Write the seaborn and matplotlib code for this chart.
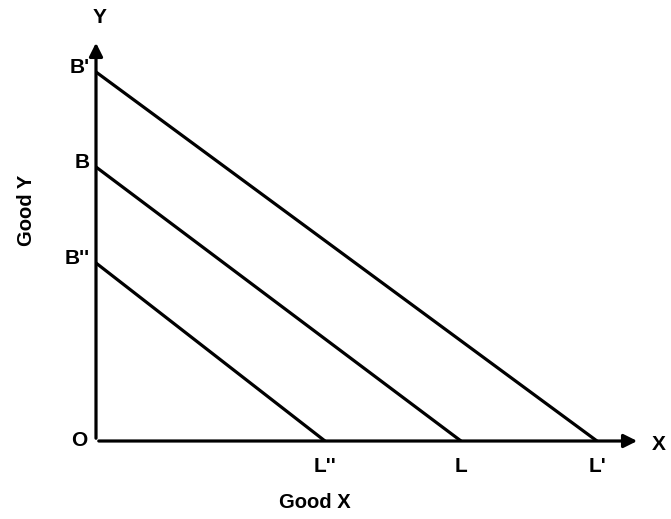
import matplotlib.pyplot as plt
import seaborn as sns
import pandas as pd

# budget lines: y-intercept (B) and x-intercept (L), in picture units
line_names = ["B'L'", "BL", "B''L''"]
y_intercepts = [369, 274, 178]
x_intercepts = [501, 365, 229]
y_labels = ["B'", "B", "B''"]
x_labels = ["L'", "L", "L''"]

sns.set_style("white")
plt.rcParams['font.family'] = ['Liberation Sans', 'DejaVu Sans']
plt.rcParams['text.color'] = 'black'

rows = []
for name, b, l in zip(line_names, y_intercepts, x_intercepts):
    rows.append({"line": name, "x": 0, "y": b})
    rows.append({"line": name, "x": l, "y": 0})
df = pd.DataFrame(rows)

fig = plt.figure(figsize=(6.71, 5.19), dpi=100)
ax = fig.add_axes([96 / 671, 78 / 519, 544 / 671, 401 / 519])
sns.lineplot(data=df, x="x", y="y", units="line", estimator=None,
             color="black", lw=2.3, ax=ax, legend=False)
ax.set_xlim(0, 544)
ax.set_ylim(0, 401)
for s in ax.spines.values():
    s.set_visible(False)
ax.set_xticks([])
ax.set_yticks([])
ax.set_xlabel("")
ax.set_ylabel("")

arrow = dict(arrowstyle='-|>', lw=2.3, color='black', mutation_scale=20)
ax.annotate('', xy=(544, 0), xytext=(0, 0), arrowprops=arrow, annotation_clip=False)
ax.annotate('', xy=(0, 401), xytext=(0, 0), arrowprops=arrow, annotation_clip=False)

fs = 15
for b, lab in zip(y_intercepts, y_labels):
    ax.text(-6, b + 4, lab, ha='right', va='center', fontsize=fs, fontweight='bold')
for l, lab in zip(x_intercepts, x_labels):
    ax.text(l, -26, lab, ha='center', va='center', fontsize=fs, fontweight='bold')
ax.text(-17, 0, "O", ha='center', va='center', fontsize=fs, fontweight='bold')
ax.text(4, 423, "Y", ha='center', va='center', fontsize=fs, fontweight='bold')
ax.text(563, -4, "X", ha='center', va='center', fontsize=fs, fontweight='bold')
ax.text(219, -61, "Good X", ha='center', va='center', fontsize=14.5, fontweight='bold')
ax.text(-69, 231, "Good Y", ha='center', va='center', rotation=90, fontsize=14.5, fontweight='bold')

fig.savefig("out.png", dpi=100)
